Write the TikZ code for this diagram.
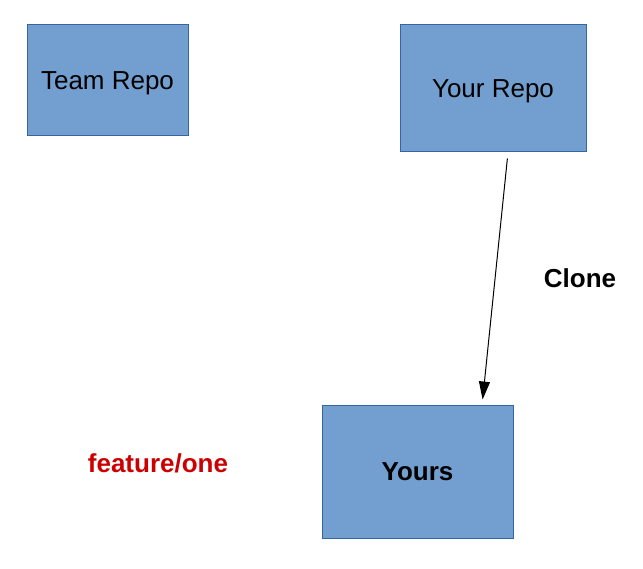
\documentclass[tikz,border=0pt]{standalone}
\usepackage{fontspec}
\setmainfont{Liberation Sans}
\usetikzlibrary{arrows.meta}
\definecolor{repoFill}{RGB}{114, 159, 207}
\definecolor{repoLine}{RGB}{52, 101, 164}
\definecolor{branchRed}{RGB}{204, 0, 0}

\tikzset{
  repobox/.style={draw=repoLine, line width=1pt, fill=repoFill, inner sep=0pt,
    text depth=0pt, font=\fontsize{26}{31}\selectfont},
  biglabel/.style={font=\fontsize{26}{31}\selectfont\bfseries}
}

\begin{document}
\begin{tikzpicture}[x=1pt, y=-1pt]
            \useasboundingbox (0,0) rectangle (643,569);
            \node[repobox, minimum width=161pt, minimum height=111pt] (team) at (107.5,80.5) {Team Repo};
            \node[repobox, minimum width=186pt, minimum height=127pt] (yourrepo) at (493,88.5) {Your Repo};
            \node[repobox, minimum width=191pt, minimum height=132pt, font=\fontsize{26}{31}\selectfont\bfseries] (yours) at (417.5,472) {Yours};
            \node[biglabel] (clone) at (580,278) {Clone};
            \node[biglabel, text=branchRed] (feature) at (158,463) {feature/one};
            \draw[-{Triangle[length=18pt,width=11pt]}, line width=1pt, shorten <=6pt, shorten >=6pt]
              ([xshift=15pt]yourrepo.south) -- ([xshift=64.5pt]yours.north);
        \end{tikzpicture}
\end{document}
